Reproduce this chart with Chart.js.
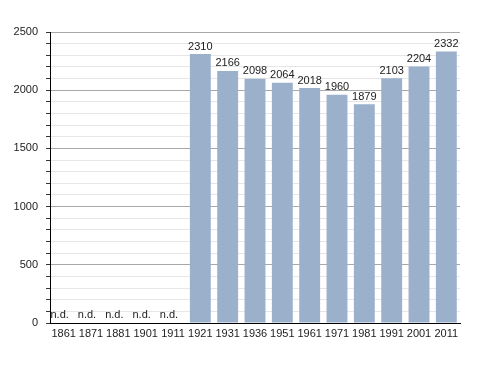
<!DOCTYPE html>
<html>
<head>
<meta charset="utf-8">
<script src="https://cdn.jsdelivr.net/npm/chart.js@4"></script>
<style>
  html, body { margin: 0; padding: 0; background: #fff; }
  #wrap { width: 488px; height: 373px; }
</style>
</head>
<body>
<div id="wrap"><canvas id="popChart" width="488" height="373"></canvas></div>
<script>
// Population by census year (null = no data)
var years = ['1861', '1871', '1881', '1901', '1911', '1921', '1931', '1936', '1951', '1961', '1971', '1981', '1991', '2001', '2011'];
var population = [null, null, null, null, null, 2310, 2166, 2098, 2064, 2018, 1960, 1879, 2103, 2204, 2332];
var noDataLabel = 'n.d.';

var labelFont = '11px "Liberation Sans", Arial, sans-serif';

// draws values above bars and "n.d." where data is missing
var barLabels = {
  id: 'barLabels',
  afterDatasetsDraw: function (chart) {
    var ctx = chart.ctx;
    var meta = chart.getDatasetMeta(0);
    var yScale = chart.scales.y;
    ctx.save();
    ctx.font = labelFont;
    ctx.fillStyle = '#222';
    ctx.textAlign = 'center';
    ctx.textBaseline = 'bottom';
    meta.data.forEach(function (bar, i) {
      var v = population[i];
      if (v === null) {
        ctx.fillText(noDataLabel, bar.x - 4, yScale.getPixelForValue(0) - 3);
      } else {
        ctx.fillText(String(v), bar.x, bar.y - 2);
      }
    });
    ctx.restore();
  }
};

new Chart(document.getElementById('popChart'), {
  type: 'bar',
  data: {
    labels: years,
    datasets: [{
      data: population,
      backgroundColor: '#9bb0cb',
      borderWidth: 0,
      barPercentage: 0.78,
      categoryPercentage: 0.98
    }]
  },
  options: {
    responsive: false,
    animation: false,
    layout: { padding: { top: 32, right: 28, left: 0, bottom: 0 } },
    plugins: {
      legend: { display: false },
      tooltip: { enabled: false }
    },
    scales: {
      x: {
        afterFit: function (scale) { scale.height = 50; },
        grid: { display: false, drawTicks: false },
        border: { display: true, color: '#000', width: 1 },
        ticks: {
          padding: 4,
          color: '#222',
          font: { family: '"Liberation Sans", Arial, sans-serif', size: 11 },
          maxRotation: 0,
          autoSkip: false
        }
      },
      y: {
        min: 0,
        max: 2500,
        afterFit: function (scale) { scale.width = 50; },
        border: { display: true, color: '#000', width: 1 },
        grid: {
          color: function (c) {
            if (c.tick.value === 0) return 'rgba(0,0,0,0)';
            return c.tick.value % 500 === 0 ? '#a8a8a8' : '#e6e6e6';
          },
          tickColor: '#333',
          tickLength: 4
        },
        ticks: {
          stepSize: 100,
          autoSkip: false,
          padding: 8,
          color: '#222',
          font: { family: '"Liberation Sans", Arial, sans-serif', size: 11 },
          callback: function (v) { return v % 500 === 0 ? v : ''; }
        }
      }
    }
  },
  plugins: [barLabels]
});
</script>
</body>
</html>
